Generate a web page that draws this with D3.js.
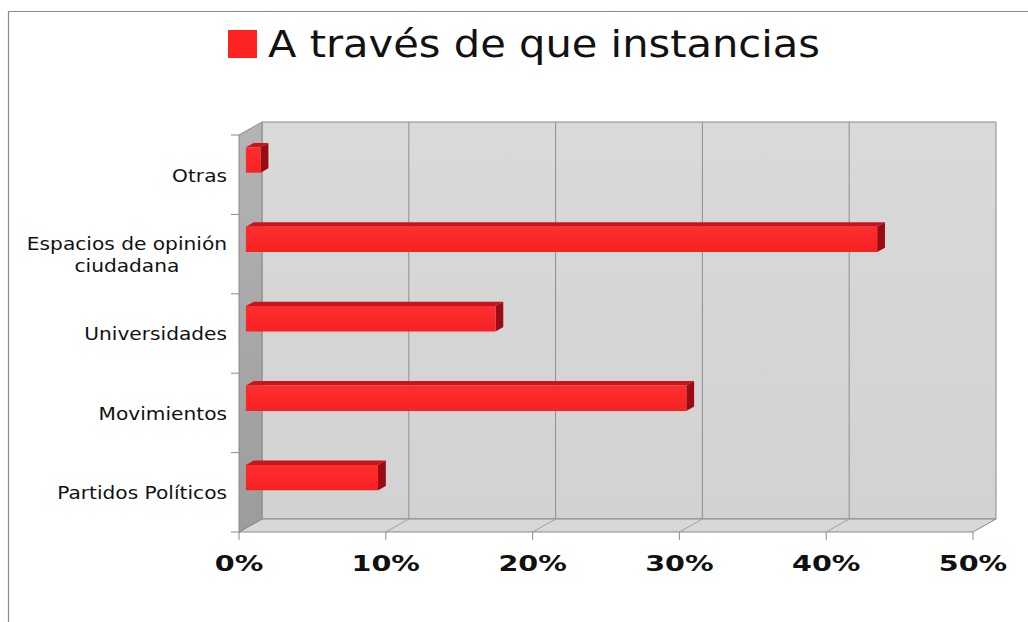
<!DOCTYPE html>
<html>
<head>
<meta charset="utf-8">
<script src="https://cdn.jsdelivr.net/npm/d3@7"></script>
<style>
  body { margin: 0; background: #ffffff; }
  svg { display: block; }
</style>
</head>
<body>
<svg id="chart" width="1028" height="622"></svg>
<script>
// ---- data ----
const categories = ["Otras", "Espacios de opinión ciudadana", "Universidades", "Movimientos", "Partidos Políticos"];
const labelLines = [["Otras"], ["Espacios de opinión", "ciudadana"], ["Universidades"], ["Movimientos"], ["Partidos Políticos"]];
const values = [1, 43, 17, 30, 9];
const tickValues = [0, 10, 20, 30, 40, 50];
const tickLabels = ["0%", "10%", "20%", "30%", "40%", "50%"];
const seriesName = "A través de que instancias";

// ---- layout ----
const svg = d3.select("#chart");
const font = "'DejaVu Sans', Verdana, sans-serif";
const frontTop = 135, frontBottom = 532;
const DX = 23, DY = -13;          // depth offset of the 3D box
const Z0 = 0.3, Z1 = 0.64;         // depth span of the bars

const x = d3.scaleLinear().domain([0, 50]).range([239, 973]);
const yCat = d3.scaleBand().domain(categories).range([frontTop, frontBottom]);
const yBar = d3.scaleBand().domain(categories).range([frontTop, frontBottom])
  .paddingInner(0.68).paddingOuter(0.34).align(0.3);

const P = (v, yy, z) => [x(v) + DX * z, yy + DY * z];
const poly = pts => pts.map(p => p.join(",")).join(" ");

const defs = svg.append("defs");
const gBack = defs.append("linearGradient").attr("id", "backWall").attr("x1", 0).attr("y1", 0).attr("x2", 0).attr("y2", 1);
gBack.append("stop").attr("offset", "0%").attr("stop-color", "#d9d9d9");
gBack.append("stop").attr("offset", "100%").attr("stop-color", "#d2d2d2");
const gLeft = defs.append("linearGradient").attr("id", "leftWall").attr("x1", 0).attr("y1", 0).attr("x2", 0).attr("y2", 1);
gLeft.append("stop").attr("offset", "0%").attr("stop-color", "#b4b4b4");
gLeft.append("stop").attr("offset", "100%").attr("stop-color", "#9c9c9c");
const gFront = defs.append("linearGradient").attr("id", "barFront").attr("x1", 0).attr("y1", 0).attr("x2", 0).attr("y2", 1);
gFront.append("stop").attr("offset", "0%").attr("stop-color", "#ff2e2e");
gFront.append("stop").attr("offset", "100%").attr("stop-color", "#f52222");

// outer frame
svg.append("path").attr("d", "M8.5,622 L8.5,11.5 L1028,11.5")
  .attr("fill", "none").attr("stroke", "#8c8c8c").attr("stroke-width", 1.2);

// ---- legend / title ----
svg.append("rect").attr("x", 228).attr("y", 30).attr("width", 29).attr("height", 28).attr("fill", "#ff2323");
svg.append("text").attr("x", 268).attr("y", 57)
  .attr("font-family", font).attr("font-size", 38).attr("fill", "#111")
  .attr("textLength", 552).attr("lengthAdjust", "spacingAndGlyphs")
  .text(seriesName);

// ---- 3D box ----
const box = svg.append("g");
box.append("polygon").attr("points", poly([P(0, frontTop, 1), P(50, frontTop, 1), P(50, frontBottom, 1), P(0, frontBottom, 1)]))
  .attr("fill", "url(#backWall)").attr("stroke", "#8a8a8a").attr("stroke-width", 1);
box.append("polygon").attr("points", poly([P(0, frontBottom, 0), P(50, frontBottom, 0), P(50, frontBottom, 1), P(0, frontBottom, 1)]))
  .attr("fill", "#d8d8d8").attr("stroke", "#8a8a8a").attr("stroke-width", 1);
box.append("polygon").attr("points", poly([P(0, frontTop, 0), P(0, frontTop, 1), P(0, frontBottom, 1), P(0, frontBottom, 0)]))
  .attr("fill", "url(#leftWall)").attr("stroke", "#8a8a8a").attr("stroke-width", 1);

// gridlines on back wall and floor, ticks under the front edge
tickValues.forEach(t => {
  if (t > 0 && t < 50) {
    const a = P(t, frontTop, 1), b = P(t, frontBottom, 1), c = P(t, frontBottom, 0);
    box.append("line").attr("x1", a[0]).attr("y1", a[1]).attr("x2", b[0]).attr("y2", b[1])
      .attr("stroke", "#8f8f8f").attr("stroke-width", 1);
    box.append("line").attr("x1", b[0]).attr("y1", b[1]).attr("x2", c[0]).attr("y2", c[1])
      .attr("stroke", "#a0a0a0").attr("stroke-width", 1);
  }
  const f = P(t, frontBottom, 0);
  box.append("line").attr("x1", f[0]).attr("y1", f[1]).attr("x2", f[0]).attr("y2", f[1] + 8)
    .attr("stroke", "#8a8a8a").attr("stroke-width", 1);
});

// category tick marks on the left wall edge
const bounds = categories.map(c => yCat(c)).concat([frontBottom]);
bounds.forEach(b => {
  box.append("line").attr("x1", x(0) - 8).attr("y1", b).attr("x2", x(0)).attr("y2", b)
    .attr("stroke", "#8a8a8a").attr("stroke-width", 1);
});

// ---- bars ----
const bars = svg.append("g").selectAll("g").data(categories).join("g");
bars.each(function (c, i) {
  const g = d3.select(this);
  const v = values[i];
  const t = yBar(c), b = yBar(c) + yBar.bandwidth();
  g.append("polygon").attr("points", poly([P(0, t, Z0), P(v, t, Z0), P(v, t, Z1), P(0, t, Z1)]))
    .attr("fill", "#c8141c");
  g.append("polygon").attr("points", poly([P(v, t, Z0), P(v, t, Z1), P(v, b, Z1), P(v, b, Z0)]))
    .attr("fill", "#9a0b14");
  g.append("polygon").attr("points", poly([P(0, t, Z0), P(v, t, Z0), P(v, b, Z0), P(0, b, Z0)]))
    .attr("fill", "url(#barFront)");
});

// ---- category labels ----
const labels = svg.append("g");
categories.forEach((c, i) => {
  const lines = labelLines[i];
  const cy = yCat(c) + yCat.bandwidth() / 2;
  const lh = 22;
  const g = labels.append("g");
  const txt = g.append("text").attr("font-family", font).attr("font-size", 18)
    .attr("fill", "#111").attr("text-anchor", "middle");
  lines.forEach((ln, k) => {
    txt.append("tspan").attr("x", 0)
      .attr("y", cy + 7 + (k - (lines.length - 1) / 2) * lh)
      .text(ln);
  });
  const w = txt.node().getBBox().width * 1.12;
  g.attr("transform", `translate(${227 - w / 2},0) scale(1.12,1)`);
});

// ---- value axis labels ----
const axisLabels = svg.append("g");
tickValues.forEach((t, i) => {
  const f = P(t, frontBottom, 0);
  axisLabels.append("text")
    .attr("transform", `translate(${f[0]},571) scale(1.3,1)`)
    .attr("font-family", font).attr("font-weight", "bold").attr("font-size", 22)
    .attr("fill", "#111").attr("text-anchor", "middle")
    .text(tickLabels[i]);
});
</script>
</body>
</html>
